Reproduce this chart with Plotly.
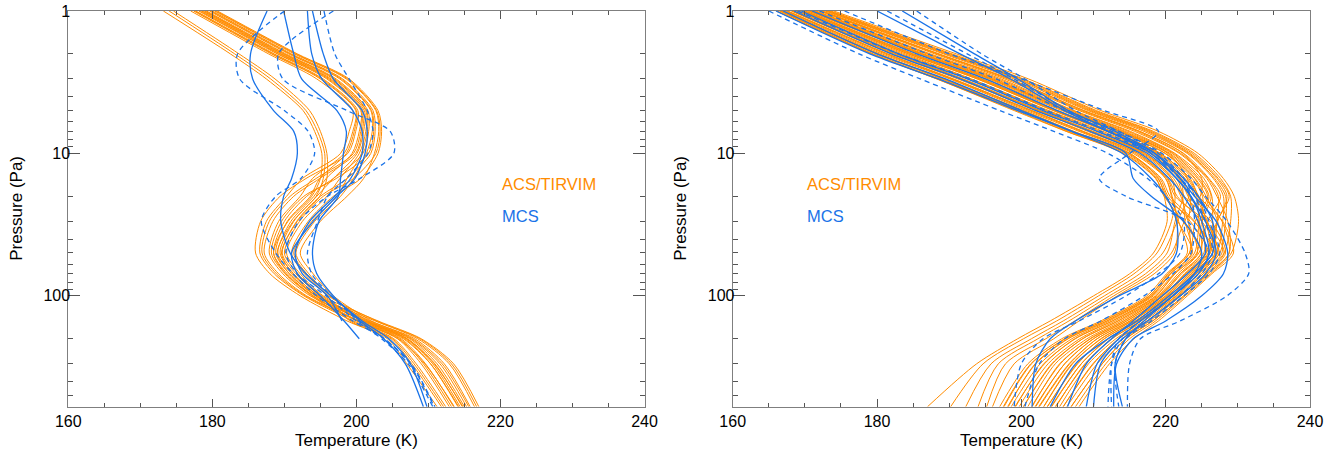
import plotly.graph_objects as go

# Pressure levels (Pa) shared by all profiles
pressure = [1, 2, 3, 5, 7, 10, 15, 20, 30, 50, 70, 100, 150, 200, 300, 600]

# ---- Left panel: ACS/TIRVIM temperature profiles (K) ----
acs_left = [
    [177.0, 187.8, 194.5, 199.5, 199.0, 197.8, 192.5, 190.3, 187.5, 186.6, 188.6, 192.7, 199.6, 205.2, 208.3, 212.4],
    [177.4, 188.2, 195.0, 199.9, 199.5, 198.3, 193.9, 192.2, 189.2, 187.9, 189.8, 193.6, 201.3, 207.1, 210.9, 214.7],
    [177.7, 188.6, 195.4, 200.2, 199.9, 198.8, 193.0, 189.4, 186.7, 186.0, 188.0, 192.2, 198.7, 204.3, 207.0, 211.2],
    [178.1, 189.0, 195.9, 200.6, 200.4, 199.4, 195.8, 194.1, 190.9, 189.1, 191.0, 194.5, 202.6, 208.5, 212.9, 216.4],
    [178.5, 189.4, 196.3, 200.9, 200.8, 199.9, 194.9, 191.3, 188.4, 187.2, 189.2, 193.1, 200.4, 206.2, 209.6, 213.5],
    [178.9, 189.8, 196.8, 201.3, 201.3, 200.4, 197.7, 195.9, 192.5, 190.3, 192.2, 195.4, 203.0, 209.0, 213.5, 217.0],
    [179.2, 190.2, 197.2, 201.6, 201.7, 200.9, 196.8, 193.1, 190.0, 188.5, 190.4, 194.0, 200.0, 205.7, 209.0, 212.9],
    [179.6, 190.6, 197.7, 202.0, 202.2, 201.4, 199.6, 197.8, 194.2, 191.6, 193.4, 196.3, 201.7, 207.6, 211.6, 215.3],
    [180.0, 191.0, 198.1, 202.3, 202.6, 202.0, 198.7, 195.0, 191.7, 189.7, 191.6, 195.0, 200.9, 206.7, 210.3, 214.1],
    [180.3, 191.4, 198.6, 202.7, 203.1, 202.5, 201.0, 198.7, 195.0, 192.2, 194.0, 196.8, 202.1, 208.1, 212.2, 215.8],
    [180.7, 191.8, 199.0, 203.0, 203.5, 203.0, 200.6, 196.8, 193.3, 191.0, 192.8, 195.9, 199.1, 204.8, 207.7, 211.8],
    [177.6, 188.4, 195.2, 200.0, 199.7, 198.6, 194.9, 193.6, 190.4, 188.8, 190.7, 194.3, 201.1, 206.9, 210.6, 214.4],
    [178.3, 189.2, 196.1, 200.7, 200.6, 199.6, 194.4, 190.8, 187.9, 186.9, 188.9, 192.9, 200.2, 206.0, 209.3, 213.2],
    [179.0, 190.0, 197.0, 201.4, 201.5, 200.7, 198.7, 197.3, 193.8, 191.3, 193.1, 196.1, 202.8, 208.8, 213.2, 216.7],
    [179.8, 190.8, 197.9, 202.1, 202.4, 201.7, 197.2, 192.7, 189.6, 188.2, 190.1, 193.8, 199.3, 205.0, 208.0, 212.1],
    [180.5, 191.6, 198.8, 202.8, 203.3, 202.7, 199.6, 195.4, 192.1, 190.0, 191.9, 195.2, 201.5, 207.4, 211.2, 215.0],
    [178.7, 189.6, 196.5, 201.1, 201.0, 200.1, 196.8, 194.5, 191.3, 189.4, 191.3, 194.7, 201.9, 207.8, 211.9, 215.6],
    [173.2, 182.5, 187.5, 192.6, 194.2, 195.2, 195.0, 193.8, 190.5, 188.5, 190.2, 194.0, 200.3, 205.8, 209.5, 213.6],
    [174.0, 183.1, 188.1, 193.0, 194.6, 195.6, 195.4, 194.4, 191.2, 189.0, 190.7, 194.4, 200.8, 206.5, 210.3, 214.2],
    [174.6, 183.7, 188.7, 193.5, 195.0, 195.9, 195.9, 194.9, 191.8, 189.6, 191.2, 194.8, 201.2, 207.0, 210.8, 214.8],
]

# ---- Left panel: MCS profiles (solid / dashed) ----
mcs_left_solid = [
    [187.6, 185.3, 185.6, 188.5, 191.3, 191.8, 191.0, 189.9, 189.5, 190.8, 193.0, 196.5, 200.8, 204.5, 207.5, 209.8],
    [189.9, 191.3, 192.4, 197.3, 198.6, 198.2, 197.8, 197.5, 194.8, 193.9, 194.5, 196.8, 200.5, 203.8, 206.8, 209.3],
    [193.2, 193.8, 195.2, 199.5, 200.8, 200.8, 199.2, 197.0, 193.5, 191.5, 192.5, 196.0, 198.0, None, None, None],
    [193.9, 195.4, 196.8, 200.8, 201.5, 201.2, 199.8, 197.3, 194.0, 191.0, 191.8, 195.0, 198.3, 200.4, None, None],
]
mcs_left_dash = [
    [190.0, 183.5, 183.8, 190.0, 193.3, 194.2, 192.3, 188.8, 186.8, 188.8, 191.2, 194.5, 199.5, 203.8, 207.5, 210.8],
    [196.8, 189.2, 189.8, 198.7, 204.7, 205.2, 200.5, 196.0, 192.0, 190.2, 191.8, 195.8, 200.0, 203.5, 207.2, 210.6],
    [195.5, 197.0, 199.0, 201.5, 202.3, 201.6, 198.6, 196.0, 194.6, 193.2, 193.8, 196.5, 200.3, 203.9, 207.6, 210.9],
]

# ---- Right panel: ACS/TIRVIM profiles ----
acs_right = [
    [166.0, 179.2, 188.3, 199.0, 206.2, 214.1, 218.6, 219.8, 222.4, 224.9, 222.0, 219.1, 213.4, 208.5, 204.2, 200.3],
    [166.5, 179.5, 188.6, 199.7, 206.6, 214.6, 218.9, 220.1, 221.7, 223.7, 220.6, 218.0, 211.9, 206.4, 201.9, 198.2],
    [166.8, 180.3, 189.2, 200.3, 207.2, 215.0, 219.4, 220.6, 224.0, 226.5, 223.5, 220.6, 215.3, 211.1, 207.0, 203.1],
    [167.2, 180.7, 190.1, 200.7, 208.0, 215.5, 220.0, 220.9, 221.8, 223.0, 220.1, 217.4, 211.0, 205.6, 200.9, 197.0],
    [167.6, 181.5, 190.5, 201.5, 208.5, 216.2, 220.3, 221.6, 225.0, 227.4, 224.5, 221.5, 216.5, 212.6, 208.8, 204.8],
    [168.1, 182.0, 191.2, 202.1, 209.2, 216.7, 220.8, 222.1, 223.1, 224.4, 221.2, 218.7, 212.6, 207.4, 203.2, 199.1],
    [168.4, 182.7, 191.9, 202.5, 209.9, 217.1, 221.5, 222.6, 226.3, 228.3, 225.6, 222.1, 217.8, 214.1, 210.5, 206.3],
    [168.8, 183.1, 192.6, 203.3, 210.5, 217.8, 221.8, 223.1, 224.4, 225.6, 222.7, 219.6, 214.2, 209.6, 205.3, 201.5],
    [169.2, 183.9, 193.1, 203.8, 211.3, 218.2, 222.2, 223.4, 223.2, 223.3, 220.4, 217.7, 211.4, 206.1, 201.3, 197.5],
    [169.6, 184.3, 193.9, 204.5, 211.8, 218.8, 222.7, 224.1, 225.8, 226.9, 223.8, 220.9, 215.8, 211.5, 207.8, 203.6],
    [170.0, 185.1, 194.4, 205.0, 212.6, 219.2, 223.4, 224.6, 227.9, 229.4, 226.4, 223.0, 219.0, 215.6, 212.2, 208.0],
    [170.4, 185.7, 195.1, 205.6, 213.1, 219.9, 223.7, 225.1, 225.1, 225.3, 222.2, 219.4, 213.8, 209.1, 204.7, 200.9],
    [170.8, 186.2, 195.8, 206.3, 213.7, 220.4, 224.1, 225.6, 227.2, 227.8, 224.9, 221.7, 217.0, 213.1, 209.3, 205.3],
    [171.2, 186.9, 196.4, 206.8, 214.4, 220.9, 224.6, 226.0, 224.7, 224.0, 221.1, 218.3, 212.2, 207.0, 202.6, 198.6],
    [171.6, 187.4, 197.2, 207.3, 215.1, 221.3, 225.3, 226.4, 226.5, 226.2, 223.2, 220.3, 215.0, 210.5, 206.6, 202.4],
    [172.0, 188.0, 197.7, 208.0, 215.7, 221.9, 225.7, 227.1, 228.6, 228.8, 225.8, 222.5, 218.2, 214.5, 211.2, 206.9],
    [172.4, 188.5, 198.4, 208.7, 216.4, 222.5, 226.0, 227.6, 225.8, 224.6, 221.7, 218.9, 213.0, 208.1, 203.7, 199.7],
    [172.8, 189.2, 199.0, 209.2, 217.0, 223.0, 226.6, 228.0, 227.9, 227.1, 224.2, 221.1, 216.2, 212.1, 208.3, 204.1],
    [173.2, 189.8, 199.6, 209.8, 217.7, 223.4, 227.1, 228.5, 227.2, 225.9, 222.9, 220.0, 214.6, 210.0, 206.0, 201.9],
    [173.6, 190.4, 200.3, 210.4, 218.3, 224.0, 227.6, 229.0, 229.0, 228.1, 225.2, 221.9, 217.4, 213.5, 209.9, 205.8],
    [174.0, 191.0, 201.0, 211.0, 219.0, 224.5, 228.0, 229.5, 230.1, 229.1, 226.2, 222.7, 218.6, 215.0, 211.7, 207.5],
    [170.1, 184.9, 194.6, 204.9, 212.4, 219.3, 223.2, 224.5, 225.6, 226.1, 223.3, 220.2, 215.1, 210.5, 206.7, 202.5],
    [166.6, 179.9, 189.0, 199.9, 207.0, 214.8, 219.2, 220.3, 223.4, 225.9, 222.9, 220.0, 214.6, 210.0, 206.0, 202.0],
    [167.4, 181.1, 190.3, 201.1, 208.3, 215.8, 220.2, 221.3, 225.5, 228.1, 225.2, 221.9, 217.4, 213.5, 210.0, 205.8],
    [168.2, 182.3, 191.6, 202.3, 209.6, 216.9, 221.1, 222.3, 222.7, 223.6, 220.7, 218.1, 211.8, 206.5, 202.0, 198.1],
    [169.0, 183.5, 192.9, 203.5, 210.9, 217.9, 222.1, 223.3, 225.7, 227.2, 224.2, 221.1, 216.2, 212.0, 208.3, 204.2],
    [169.8, 184.7, 194.2, 204.7, 212.2, 219.0, 223.0, 224.3, 224.6, 224.9, 222.0, 219.2, 213.4, 208.5, 204.3, 200.3],
    [170.6, 185.9, 195.5, 205.9, 213.5, 220.0, 224.0, 225.3, 227.8, 228.8, 225.9, 222.5, 218.2, 214.5, 211.2, 206.9],
    [171.4, 187.1, 196.8, 207.1, 214.8, 221.1, 224.9, 226.3, 225.0, 224.3, 221.3, 218.6, 212.6, 207.5, 203.1, 199.2],
    [172.2, 188.3, 198.1, 208.3, 216.1, 222.1, 225.9, 227.3, 227.1, 226.5, 223.6, 220.5, 215.4, 211.0, 207.1, 203.1],
    [173.0, 189.5, 199.4, 209.5, 217.4, 223.2, 226.8, 228.3, 228.3, 227.5, 224.6, 221.4, 216.6, 212.5, 208.9, 204.7],
    [173.4, 190.1, 200.0, 210.1, 218.0, 223.7, 227.3, 228.8, 227.1, 225.6, 222.6, 219.7, 214.2, 209.5, 205.4, 201.4],
    [166.2, 179.3, 188.3, 199.3, 206.3, 214.3, 218.7, 219.8, 223.9, 226.8, 223.9, 220.8, 215.8, 211.5, 207.7, 203.6],
    [171.0, 186.5, 196.1, 206.5, 214.1, 220.6, 224.4, 225.8, 224.1, 223.3, 220.3, 217.8, 211.4, 206.0, 201.4, 197.6],
    [166.8, 180.2, 189.3, 200.2, 207.3, 215.1, 219.0, 219.8, 220.2, 218.3, 215.0, 210.0, 204.0, 199.5, 193.8, 187.0],
    [168.4, 182.6, 191.9, 202.6, 209.9, 217.2, 220.8, 221.3, 220.8, 218.8, 215.6, 210.7, 204.9, 200.3, 194.7, 190.2],
    [170.8, 186.2, 195.8, 206.2, 213.8, 220.3, 223.0, 223.2, 221.6, 219.6, 216.4, 211.5, 205.8, 201.4, 195.8, 192.3],
    [169.6, 184.4, 193.9, 204.4, 211.9, 218.7, 222.0, 222.4, 221.3, 220.2, 217.2, 212.2, 206.6, 202.3, 196.8, 194.0],
    [172.4, 188.6, 198.4, 208.6, 216.4, 222.4, 225.0, 224.8, 222.6, 220.8, 217.8, 212.8, 207.4, 203.4, 197.8, 195.2],
    [167.6, 181.4, 190.6, 201.4, 208.6, 216.1, 220.0, 220.8, 221.6, 221.2, 218.4, 213.3, 208.0, 204.5, 199.0, 196.0],
]

# ---- Right panel: MCS profiles ----
mcs_right_solid = [
    [167.0, 180.0, 189.5, 200.0, 207.0, 214.0, 218.0, 220.0, 221.5, 221.5, 219.5, 213.5, 207.5, 204.0, 202.0, 201.5],
    [168.5, 182.0, 191.5, 202.0, 209.5, 216.5, 220.5, 222.5, 224.5, 225.5, 223.0, 219.5, 215.5, 212.5, 209.0, 206.4],
    [169.5, 183.0, 192.5, 203.0, 210.5, 217.5, 221.5, 223.5, 225.5, 227.0, 225.5, 222.0, 217.5, 214.0, 211.0, 210.0],
    [183.5, 193.5, 199.5, 206.5, 213.0, 218.5, 222.0, 224.0, 227.0, 228.6, 228.0, 225.0, 220.0, 215.5, 213.2, 212.8],
    [180.0, 191.5, 198.5, 206.0, 212.0, 218.0, 221.5, 223.5, 225.0, 226.0, 224.5, 221.0, 217.0, 214.5, 213.0, 214.0],
    [166.0, 179.0, 188.5, 199.5, 207.0, 214.5, 215.5, 218.0, 222.5, 225.0, 224.0, 221.0, 216.5, 213.5, 210.5, 209.0],
    [171.0, 185.5, 195.0, 205.0, 212.0, 218.5, 222.5, 224.5, 226.5, 226.5, 224.0, 220.5, 216.0, 212.0, 207.5, 204.0],
]
mcs_right_dash = [
    [165.0, 177.5, 186.0, 197.0, 204.5, 212.0, 217.5, 220.0, 222.5, 222.0, 219.0, 214.5, 208.0, 203.0, 200.0, 199.0],
    [175.5, 190.0, 200.0, 211.5, 219.0, 215.0, 210.8, 214.5, 223.0, 226.0, 224.5, 221.0, 216.5, 213.5, 212.5, 212.5],
    [172.0, 187.0, 196.5, 206.0, 213.5, 219.5, 223.5, 225.5, 228.5, 231.0, 231.5, 228.5, 222.0, 216.5, 215.0, 214.7],
    [185.5, 194.5, 200.5, 207.5, 213.5, 219.0, 222.5, 224.0, 225.5, 226.5, 225.0, 222.0, 217.5, 214.0, 212.5, 212.0],
    [181.4, 192.5, 199.0, 206.5, 212.5, 218.5, 222.0, 223.5, 224.0, 223.5, 221.0, 217.0, 211.0, 206.0, 202.5, 200.5],
    [169.0, 183.0, 193.0, 203.5, 211.0, 218.0, 222.0, 224.5, 226.0, 227.5, 226.0, 222.5, 218.0, 214.5, 213.0, 213.5],
]

x_ticks = [160, 180, 200, 220, 240]
y_ticks = [1, 10, 100]
y_minor = [2, 3, 4, 5, 6, 7, 8, 9, 20, 30, 40, 50, 60, 70, 80, 90, 200, 300, 400, 500]

ORANGE = "#FF8C00"
BLUE = "#1A73E8"
FONT = "Liberation Sans, Arial, Helvetica, sans-serif"

fig = go.Figure()


def add_profiles(profiles, color, xa, ya, dash=None, width=1.0):
    for prof in profiles:
        pts = [(t, p) for t, p in zip(prof, pressure) if t is not None]
        fig.add_trace(go.Scatter(
            x=[t for t, _ in pts], y=[p for _, p in pts],
            mode="lines", xaxis=xa, yaxis=ya, showlegend=False,
            line=dict(color=color, width=width, shape="spline", smoothing=0.8,
                      dash=dash if dash else "solid"),
            hoverinfo="skip",
        ))


add_profiles(acs_left, ORANGE, "x", "y", width=1.0)
add_profiles(mcs_left_solid, BLUE, "x", "y", width=1.3)
add_profiles(mcs_left_dash, BLUE, "x", "y", dash="5px,4px", width=1.3)
add_profiles(acs_right, ORANGE, "x2", "y2", width=1.0)
add_profiles(mcs_right_solid, BLUE, "x2", "y2", width=1.3)
add_profiles(mcs_right_dash, BLUE, "x2", "y2", dash="5px,4px", width=1.3)

W, H = 1336, 452
top_px, bot_px = 11, 406.7
ydom = [1 - bot_px / H, 1 - top_px / H]
xdom1 = [68.3 / W, 644.5 / W]
xdom2 = [732.7 / W, 1310.0 / W]

axis_common = dict(showline=True, linecolor="#7f7f7f", linewidth=1, mirror="ticks",
                   ticks="inside", tickcolor="#555555", showgrid=False, zeroline=False,
                   automargin=False,
                   tickfont=dict(family=FONT, size=16, color="black"))

xaxis = dict(axis_common, range=[160, 240], tickvals=x_ticks, ticklen=8, tickwidth=1,
             minor=dict(dtick=5, tick0=160, ticks="inside", ticklen=4, tickcolor="#555555"))
yaxis = dict(axis_common, type="log", range=[2.77815, 0], tickvals=y_ticks,
             ticktext=[str(v) for v in y_ticks], ticklen=12, tickwidth=1,
             ticklabelstandoff=-6,
             minor=dict(tickvals=y_minor, ticks="inside", ticklen=5, tickcolor="#555555"))

fig.update_layout(
    width=W, height=H,
    margin=dict(l=0, r=0, t=0, b=0, autoexpand=False),
    paper_bgcolor="white", plot_bgcolor="white",
    font=dict(family=FONT, size=16, color="black"),
    xaxis=dict(xaxis, domain=xdom1, anchor="y"),
    yaxis=dict(yaxis, domain=ydom, anchor="x"),
    xaxis2=dict(xaxis, domain=xdom2, anchor="y2"),
    yaxis2=dict(yaxis, domain=ydom, anchor="x2"),
)

ann = []
for dom, suffix, leg_x in [(xdom1, "", 220), (xdom2, "2", 170)]:
    ann.append(dict(text="Temperature (K)", xref="paper", yref="paper",
                    x=(dom[0] + dom[1]) / 2, y=1 - 440 / H, showarrow=False,
                    xanchor="center", yanchor="middle", font=dict(size=17, family=FONT)))
    ann.append(dict(text="ACS/TIRVIM", xref="x" + suffix, yref="y" + suffix,
                    x=leg_x, y=1.212, showarrow=False, xanchor="left", yanchor="middle",
                    font=dict(size=16.5, color=ORANGE, family=FONT)))
    ann.append(dict(text="MCS", xref="x" + suffix, yref="y" + suffix,
                    x=leg_x, y=1.44, showarrow=False, xanchor="left", yanchor="middle",
                    font=dict(size=16.5, color=BLUE, family=FONT)))
for px in [17, 681]:
    ann.append(dict(text="Pressure (Pa)", xref="paper", yref="paper",
                    x=px / W, y=(ydom[0] + ydom[1]) / 2, showarrow=False, textangle=-90,
                    xanchor="center", yanchor="middle", font=dict(size=17, family=FONT)))
fig.update_layout(annotations=ann)

fig.write_html(
    "out.html",
    config={"displayModeBar": False},
    post_script="document.body.style.margin='0';document.body.style.padding='0';"
                "document.body.style.overflow='hidden';",
)
